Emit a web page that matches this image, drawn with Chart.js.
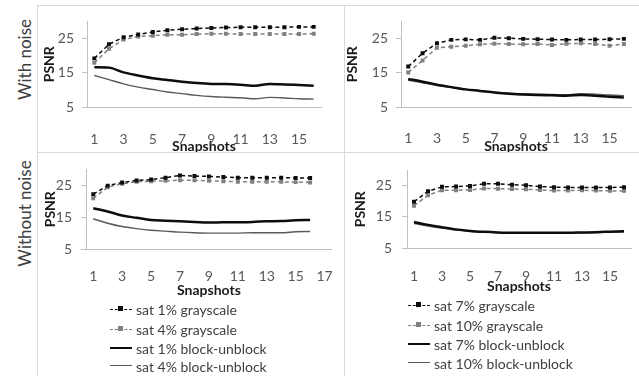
<!DOCTYPE html>
<html>
<head>
<meta charset="utf-8">
<script src="https://cdn.jsdelivr.net/npm/chart.js@4.4.1/dist/chart.umd.min.js"></script>
<style>
  body { margin:0; width:639px; height:376px; background:#fff; position:relative; overflow:hidden; font-family:Lato, sans-serif; }
  .rule { position:absolute; background:#d9d9d9; }
  .pane { position:absolute; }
  .side { position:absolute; width:140px; text-align:center; font-size:17px; color:#404040; white-space:nowrap; transform:rotate(-90deg); }
  .item { position:absolute; height:19px; line-height:19px; font-size:14px; color:#404040; white-space:nowrap; }
  .item span { position:absolute; left:26px; top:0; }
  .mk { position:absolute; left:0; width:22px; }
  .mk.dash { top:9px; border-top:1.5px dashed; }
  .mk.dash i { position:absolute; left:8px; top:-4px; width:5px; height:5px; }
  .mk.solid { top:8px; }
</style>
</head>
<body>

<div class="rule" style="left:37px;top:5px;width:1px;height:371px"></div>
<div class="rule" style="left:37px;top:5px;width:602px;height:1px"></div>
<div class="rule" style="left:344px;top:5px;width:1px;height:371px"></div>

<div class="side" style="left:-46px;top:49px">With noise</div>
<div class="side" style="left:-46px;top:203px">Without noise</div>

<div class="pane" style="left:37px;top:5px;width:307px;height:152px"><canvas id="c-tl"></canvas></div>
<div class="pane" style="left:344px;top:5px;width:295px;height:152px"><canvas id="c-tr"></canvas></div>
<div class="rule" style="left:37px;top:152px;width:602px;height:1px"></div>
<div class="pane" style="left:37px;top:152px;width:307px;height:150px"><canvas id="c-bl"></canvas></div>
<div class="pane" style="left:344px;top:152px;width:295px;height:150px"><canvas id="c-br"></canvas></div>

<div id="legend-left"></div>
<div id="legend-right"></div>

<script>
// Eje X (snapshots) y marcas del eje Y
const snapshots16 = ['1','2','3','4','5','6','7','8','9','10','11','12','13','14','15','16'];
const snapshots17 = ['1','2','3','4','5','6','7','8','9','10','11','12','13','14','15','16','17'];
const psnrTicks = [5, 15, 25];

// Con ruido — sat 1% / 4%
const wnSat1Gray  = [19.2, 23.3, 25.4, 26.2, 26.9, 27.4, 27.7, 27.9, 28.1, 28.2, 28.3, 28.3, 28.3, 28.3, 28.4, 28.4];
const wnSat4Gray  = [17.9, 22.0, 24.7, 25.6, 25.8, 26.1, 26.1, 26.3, 26.4, 26.4, 26.3, 26.3, 26.3, 26.3, 26.3, 26.4];
const wnSat1Block = [16.6, 16.5, 15.1, 14.2, 13.4, 12.9, 12.4, 12.0, 11.75, 11.7, 11.5, 11.2, 11.75, 11.6, 11.4, 11.2];
const wnSat4Block = [14.2, 13.0, 11.75, 10.8, 10.1, 9.4, 8.9, 8.4, 8.05, 7.85, 7.7, 7.4, 7.8, 7.65, 7.4, 7.3];

// Con ruido — sat 7% / 10%
const wnSat7Gray   = [16.8, 20.7, 23.6, 24.6, 24.75, 24.6, 25.2, 25.1, 24.9, 24.8, 24.7, 24.6, 24.7, 24.7, 24.8, 24.9];
const wnSat10Gray  = [15.1, 18.6, 22.3, 22.6, 22.9, 23.3, 23.5, 23.4, 23.3, 23.4, 23.1, 23.5, 23.6, 23.4, 22.9, 23.4];
const wnSat7Block  = [13.2, 12.4, 11.5, 10.8, 10.15, 9.7, 9.2, 8.9, 8.65, 8.5, 8.4, 8.3, 8.5, 8.3, 8.0, 7.75];
const wnSat10Block = [12.8, 12.1, 11.3, 10.7, 10.15, 9.7, 9.3, 9.05, 8.85, 8.75, 8.65, 8.6, 8.9, 8.75, 8.5, 8.3];

// Sin ruido — sat 1% / 4%
const nnSat1Gray  = [22.2, 24.9, 25.9, 26.5, 26.8, 27.4, 28.1, 27.9, 27.8, 27.6, 27.4, 27.4, 27.4, 27.4, 27.3, 27.3];
const nnSat4Gray  = [20.9, 24.4, 25.5, 26.1, 26.3, 26.4, 26.6, 26.6, 26.4, 26.3, 26.1, 26.1, 26.1, 26.1, 26.0, 25.9];
const nnSat1Block = [17.8, 16.8, 15.5, 14.8, 14.1, 13.9, 13.7, 13.5, 13.3, 13.4, 13.4, 13.5, 13.7, 13.8, 14.0, 14.1];
const nnSat4Block = [14.5, 13.1, 12.05, 11.4, 10.9, 10.6, 10.3, 10.1, 10.0, 10.0, 10.0, 10.1, 10.1, 10.1, 10.4, 10.5];

// Sin ruido — sat 7% / 10%
const nnSat7Gray   = [19.9, 23.3, 24.7, 24.8, 25.0, 25.7, 25.7, 25.4, 25.2, 24.8, 24.6, 24.5, 24.5, 24.5, 24.5, 24.6];
const nnSat10Gray  = [18.6, 22.0, 23.6, 23.6, 23.7, 24.2, 24.1, 24.0, 23.9, 23.7, 23.5, 23.5, 23.6, 23.5, 23.4, 23.4];
const nnSat7Block  = [13.4, 12.45, 11.7, 11.0, 10.5, 10.2, 10.0, 9.9, 9.9, 9.9, 9.9, 9.9, 10.0, 10.1, 10.25, 10.4];
const nnSat10Block = [12.9, 12.1, 11.4, 10.8, 10.4, 10.1, 9.9, 9.8, 9.8, 9.8, 9.8, 9.8, 9.9, 10.0, 10.1, 10.2];

const legendLeft  = ['sat 1% grayscale', 'sat 4% grayscale', 'sat 1% block-unblock', 'sat 4% block-unblock'];
const legendRight = ['sat 7% grayscale', 'sat 10% grayscale', 'sat 7% block-unblock', 'sat 10% block-unblock'];

Chart.defaults.font.family = 'Lato';
Chart.defaults.animation = false;

const BLACK = '#0d0d0d', GRAY = '#808080', GRAY_LINE = '#5a5a5a', AXIS = '#bfbfbf';

function series(labels, values) {
  return [
    { label: labels[0], data: values[0], borderColor: BLACK, backgroundColor: BLACK, borderWidth: 1.5,
      borderDash: [4, 3], pointStyle: 'rect', pointRadius: 2.8, pointBorderWidth: 0 },
    { label: labels[1], data: values[1], borderColor: GRAY, backgroundColor: GRAY, borderWidth: 1.5,
      borderDash: [4, 3], pointStyle: 'rect', pointRadius: 2.8, pointBorderWidth: 0 },
    { label: labels[2], data: values[2], borderColor: BLACK, borderWidth: 2.5, pointRadius: 0,
      tension: 0.4, cubicInterpolationMode: 'monotone' },
    { label: labels[3], data: values[3], borderColor: GRAY_LINE, borderWidth: 1.4, pointRadius: 0,
      tension: 0.4, cubicInterpolationMode: 'monotone' },
  ];
}

// g: geometría del panel (px dentro del canvas)
function makeChart(id, cats, datasets, g) {
  new Chart(document.getElementById(id), {
    type: 'line',
    data: { labels: cats, datasets },
    options: {
      responsive: true,
      maintainAspectRatio: false,
      layout: { padding: { top: g.top, right: g.right, left: 0, bottom: 0 } },
      plugins: { legend: { display: false }, tooltip: { enabled: false } },
      scales: {
        x: {
          offset: true,
          grid: { display: false },
          border: { display: true, color: AXIS },
          ticks: { autoSkip: false, maxRotation: 0, padding: g.xPad, color: '#595959', font: { size: 14 },
                   callback: (v, i) => i % 2 === 0 ? cats[i] : '' },
          title: { display: true, text: 'Snapshots', color: '#1a1a1a', font: { size: 14, weight: 'bold' },
                   padding: { top: 0, bottom: g.xTitlePad } },
          afterFit: s => { s.height = g.xHeight; },
        },
        y: {
          min: 5, max: 30,
          grid: { drawOnChartArea: false, drawTicks: true, tickLength: 5, color: AXIS },
          border: { display: true, color: AXIS },
          ticks: { padding: g.yPad, color: '#595959', font: { size: 14 } },
          afterBuildTicks: s => { s.ticks = psnrTicks.map(v => ({ value: v })); },
          title: { display: true, text: 'PSNR', color: '#1a1a1a', font: { size: 14, weight: 'bold' },
                   padding: { top: g.yTitlePad, bottom: 0 } },
          afterFit: s => { s.width = g.yWidth; },
        },
      },
    },
  });
}

makeChart('c-tl', snapshots16, series(legendLeft, [wnSat1Gray, wnSat4Gray, wnSat1Block, wnSat4Block]),
  { top: 12, right: 23, yWidth: 50, xHeight: 50, xPad: 16, xTitlePad: 2.6, yPad: 8, yTitlePad: 4 });
makeChart('c-tr', snapshots16, series(legendRight, [wnSat7Gray, wnSat10Gray, wnSat7Block, wnSat10Block]),
  { top: 11, right: 1, yWidth: 57, xHeight: 50, xPad: 15, xTitlePad: 2.6, yPad: 8, yTitlePad: 0 });
makeChart('c-bl', snapshots17, series(legendLeft, [nnSat1Gray, nnSat4Gray, nnSat1Block, nnSat4Block]),
  { top: 9.5, right: 10, yWidth: 49, xHeight: 53, xPad: 11, xTitlePad: 3.6, yPad: 9, yTitlePad: 4.6 });
makeChart('c-br', snapshots16, series(legendRight, [nnSat7Gray, nnSat10Gray, nnSat7Block, nnSat10Block]),
  { top: 10, right: 8, yWidth: 63, xHeight: 54, xPad: 12, xTitlePad: 7.6, yPad: 10, yTitlePad: 7.6 });

// Leyendas (HTML)
const markers = [
  `<div class="mk dash" style="border-color:${BLACK}"><i style="background:${BLACK}"></i></div>`,
  `<div class="mk dash" style="border-color:${GRAY}"><i style="background:${GRAY}"></i></div>`,
  `<div class="mk solid" style="height:2.5px;background:${BLACK}"></div>`,
  `<div class="mk solid" style="height:1.4px;background:${GRAY_LINE}"></div>`,
];
function buildLegend(id, labels, x, ys) {
  document.getElementById(id).innerHTML = labels.map((t, i) =>
    `<div class="item" style="left:${x}px;top:${ys[i] - 9.5}px">${markers[i]}<span>${t}</span></div>`).join('');
}
buildLegend('legend-left', legendLeft, 110, [309, 329, 348, 366]);
buildLegend('legend-right', legendRight, 408, [305, 325, 344, 363]);
</script>
</body>
</html>
